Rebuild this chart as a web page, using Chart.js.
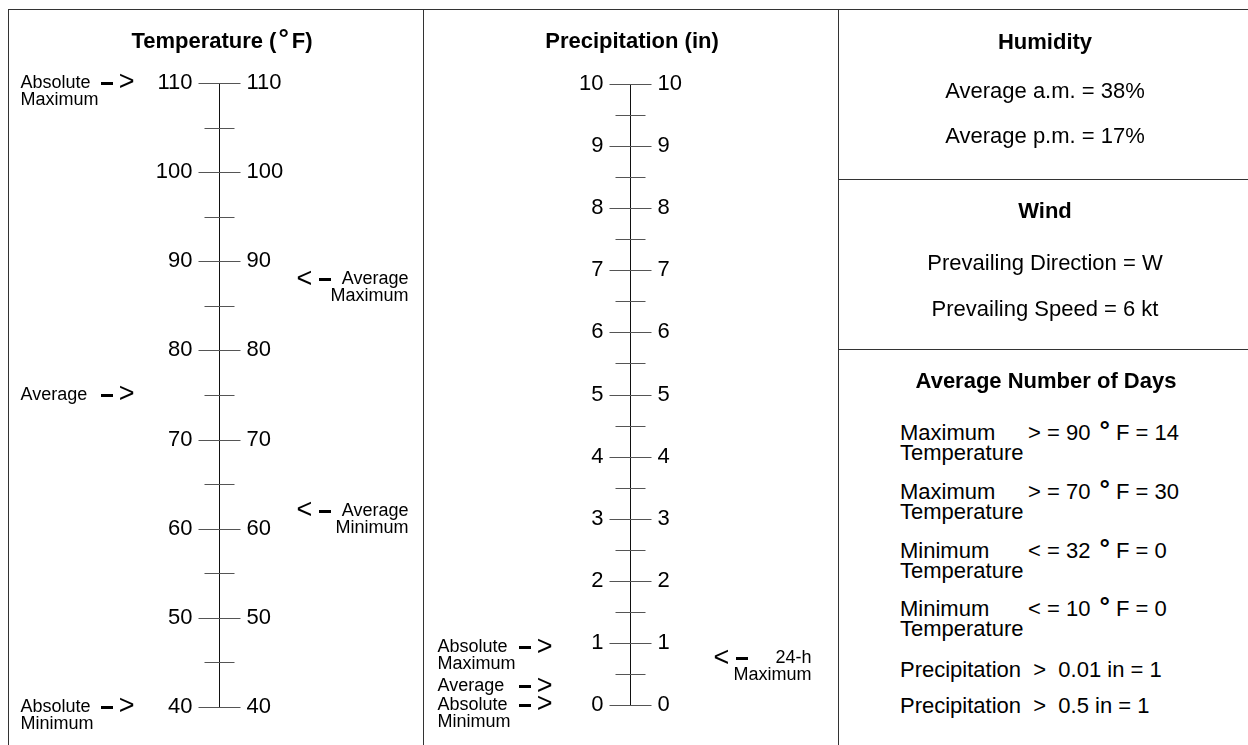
<!DOCTYPE html>
<html>
<head>
<meta charset="utf-8">
<script src="https://cdn.jsdelivr.net/npm/chart.js@4.4.1/dist/chart.umd.min.js"></script>
<style>
  body { margin: 0; background: #fff; }
  #page { position: relative; width: 1248px; height: 745px; overflow: hidden;
          font-family: "Liberation Sans", Arial, sans-serif; color: #000; }
  canvas { position: absolute; top: 0; }
  .rule { position: absolute; background: #333; }
  .txt { position: absolute; white-space: pre; font-size: 22px; line-height: 22px; }
  .c { text-align: center; }
  .b { font-weight: bold; }
  .deg { font-weight: bold; font-size: 26px; line-height: 0; margin: 0 6px 0 3px; position: relative; top: -1px; }
</style>
</head>
<body>
<div id="page">
  <canvas id="tempChart" width="423" height="745" style="left:0"></canvas>
  <canvas id="precipChart" width="415" height="745" style="left:423px"></canvas>
</div>
<script>
// temperature ladder
const tempMajorTicks = [40, 50, 60, 70, 80, 90, 100, 110];
const tempMinorTicks = [45, 55, 65, 75, 85, 95, 105];
const tempLeftLabels = [['Absolute', 'Maximum'], ['Average'], ['Absolute', 'Minimum']];
const tempLeftValues = [110, 75, 40];
const tempRightLabels = [['Average', 'Maximum'], ['Average', 'Minimum']];
const tempRightValues = [88, 62];

// precipitation ladder
const precipMajorTicks = [0, 1, 2, 3, 4, 5, 6, 7, 8, 9, 10];
const precipMinorTicks = [0.5, 1.5, 2.5, 3.5, 4.5, 5.5, 6.5, 7.5, 8.5, 9.5];
const precipLeftLabels = [['Absolute', 'Maximum'], ['Average'], ['Absolute', 'Minimum']];
const precipLeftValues = [0.93, 0.3, 0];
const precipRightLabels = [['24-h', 'Maximum']];
const precipRightValues = [0.75];

// right hand tables
const humidityLabels = ['Average a.m.', 'Average p.m.'];
const humidityValues = ['38%', '17%'];
const windLabels = ['Prevailing Direction', 'Prevailing Speed'];
const windValues = ['W', '6 kt'];
const dayLabels = [['Maximum', 'Temperature'], ['Maximum', 'Temperature'], ['Minimum', 'Temperature'],
                   ['Minimum', 'Temperature'], ['Precipitation'], ['Precipitation']];
const dayConditions = ['> = 90 °F', '> = 70 °F', '< = 32 °F', '< = 10 °F', '>  0.01 in', '>  0.5 in'];
const dayValues = [14, 30, 0, 0, 1, 1];

const FONT = '"Liberation Sans", Arial, sans-serif';

const ladderPlugin = {
  id: 'ladder',
  afterDatasetsDraw(chart, args, o) {
    const ctx = chart.ctx;
    const xs = chart.scales.x, ys = chart.scales.y;
    const x0 = Math.round(xs.getPixelForValue(0)) + 0.5;
    const py = v => Math.round(ys.getPixelForValue(v)) + 0.5;
    ctx.save();
    ctx.lineWidth = 1;
    ctx.strokeStyle = '#111';
    ctx.beginPath();
    ctx.moveTo(x0, py(ys.max));
    ctx.lineTo(x0, py(ys.min));
    ctx.stroke();

    ctx.strokeStyle = '#555';
    ctx.beginPath();
    o.major.forEach(v => { ctx.moveTo(x0 - 21, py(v)); ctx.lineTo(x0 + 21, py(v)); });
    o.minor.forEach(v => { ctx.moveTo(x0 - 15, py(v)); ctx.lineTo(x0 + 15, py(v)); });
    ctx.stroke();

    ctx.fillStyle = '#000';
    ctx.textBaseline = 'middle';
    ctx.font = '22px ' + FONT;
    o.major.forEach(v => {
      const y = ys.getPixelForValue(v);
      ctx.textAlign = 'right';
      ctx.fillText(String(v), x0 - 27, y);
      ctx.textAlign = 'left';
      ctx.fillText(String(v), x0 + 27, y);
    });

    // left markers: text then -->
    chart.getDatasetMeta(0).data.forEach((pt, i) => {
      const y = pt.y;
      const lines = o.leftLabels[i];
      ctx.font = '18px ' + FONT;
      ctx.textAlign = 'left';
      ctx.fillText(lines[0], x0 + o.leftText, y);
      if (lines[1]) ctx.fillText(lines[1], x0 + o.leftText, y + 17);
      const end = x0 + o.leftArrow;
      ctx.fillRect(Math.round(end - 32), Math.round(y) - 1, 12, 3);
      ctx.font = '27px ' + FONT;
      ctx.textAlign = 'right';
      ctx.fillText('>', end + 2, y);
    });

    // right markers: <-- then text
    chart.getDatasetMeta(1).data.forEach((pt, i) => {
      const y = pt.y;
      const lines = o.rightLabels[i];
      const start = x0 + o.rightArrow;
      ctx.font = '27px ' + FONT;
      ctx.textAlign = 'left';
      ctx.fillText('<', start - 2, y);
      ctx.fillRect(Math.round(start + 20), Math.round(y) - 1, 12, 3);
      ctx.font = '18px ' + FONT;
      ctx.textAlign = 'right';
      ctx.fillText(lines[0], x0 + o.rightText, y);
      if (lines[1]) ctx.fillText(lines[1], x0 + o.rightText, y + 17);
    });
    ctx.restore();
  }
};

function renderLadder(canvasId, cfg) {
  const canvas = document.getElementById(canvasId);
  return new Chart(canvas, {
    type: 'scatter',
    data: {
      datasets: [
        { label: 'left', data: cfg.leftValues.map(v => ({ x: 0, y: v })), pointRadius: 0 },
        { label: 'right', data: cfg.rightValues.map(v => ({ x: 0, y: v })), pointRadius: 0 }
      ]
    },
    options: {
      responsive: false,
      animation: false,
      events: [],
      layout: { padding: cfg.padding },
      plugins: {
        legend: { display: false },
        tooltip: { enabled: false },
        ladder: {
          major: cfg.major, minor: cfg.minor,
          leftLabels: cfg.leftLabels, rightLabels: cfg.rightLabels,
          leftText: cfg.leftText, leftArrow: cfg.leftArrow,
          rightArrow: cfg.rightArrow, rightText: cfg.rightText
        }
      },
      scales: {
        x: { type: 'linear', min: -1, max: 1, display: false },
        y: { type: 'linear', min: cfg.min, max: cfg.max, display: false }
      }
    },
    plugins: [ladderPlugin]
  });
}

renderLadder('tempChart', {
  min: 40, max: 110,
  major: tempMajorTicks, minor: tempMinorTicks,
  leftLabels: tempLeftLabels, leftValues: tempLeftValues,
  rightLabels: tempRightLabels, rightValues: tempRightValues,
  padding: { left: 19, right: 4, top: 83, bottom: 38 },
  leftText: -199, leftArrow: -87, rightArrow: 79, rightText: 189
});

renderLadder('precipChart', {
  min: 0, max: 10,
  major: precipMajorTicks, minor: precipMinorTicks,
  leftLabels: precipLeftLabels, leftValues: precipLeftValues,
  rightLabels: precipRightLabels, rightValues: precipRightValues,
  padding: { left: 10, right: 11, top: 84, bottom: 40 },
  leftText: -193, leftArrow: -80, rightArrow: 85, rightText: 181
});

// frame and text panels
const page = document.getElementById('page');

function rule(x, y, w, h) {
  const d = document.createElement('div');
  d.className = 'rule';
  d.style.cssText = `left:${x}px;top:${y}px;width:${w}px;height:${h}px`;
  page.appendChild(d);
}

function text(html, x, y, cls, size) {
  const d = document.createElement('div');
  size = size || 22;
  d.className = 'txt ' + (cls || '');
  d.style.fontSize = size + 'px';
  d.style.lineHeight = size + 'px';
  d.style.top = (y - size * 0.49) + 'px';
  if ((cls || '').includes('c')) {
    d.style.left = (x - 250) + 'px';
    d.style.width = '500px';
  } else {
    d.style.left = x + 'px';
  }
  d.innerHTML = html;
  page.appendChild(d);
}

const degHtml = s => s.replace('°', '<span class="deg">°</span>');

rule(8, 9, 1240, 1);
rule(8, 9, 1, 736);
rule(423, 9, 1, 736);
rule(838, 9, 1, 736);
rule(838, 179, 410, 1);
rule(838, 349, 410, 1);

text('Temperature (<span class="deg" style="margin:0 3px 0 2px">°</span>F)', 222, 41, 'c b');
text('Precipitation (in)', 632, 41, 'c b');

text('Humidity', 1045, 41.5, 'c b');
humidityLabels.forEach((l, i) => text(l + ' = ' + humidityValues[i], 1045, [90.5, 135.5][i], 'c'));

text('Wind', 1045, 211, 'c b');
windLabels.forEach((l, i) => text(l + ' = ' + windValues[i], 1045, [262.5, 309][i], 'c'));

text('Average Number of Days', 1046, 381, 'c b');
const rowY = [433, 491.5, 551, 609, 670, 705.5];
dayLabels.forEach((lines, i) => {
  if (lines.length > 1) {
    text(lines[0], 900, rowY[i]);
    text(lines[1], 900, rowY[i] + 20);
    text(degHtml(dayConditions[i]) + ' = ' + dayValues[i], 1028, rowY[i]);
  } else {
    text(lines[0] + '  ' + dayConditions[i] + ' = ' + dayValues[i], 900, rowY[i]);
  }
});
</script>
</body>
</html>
